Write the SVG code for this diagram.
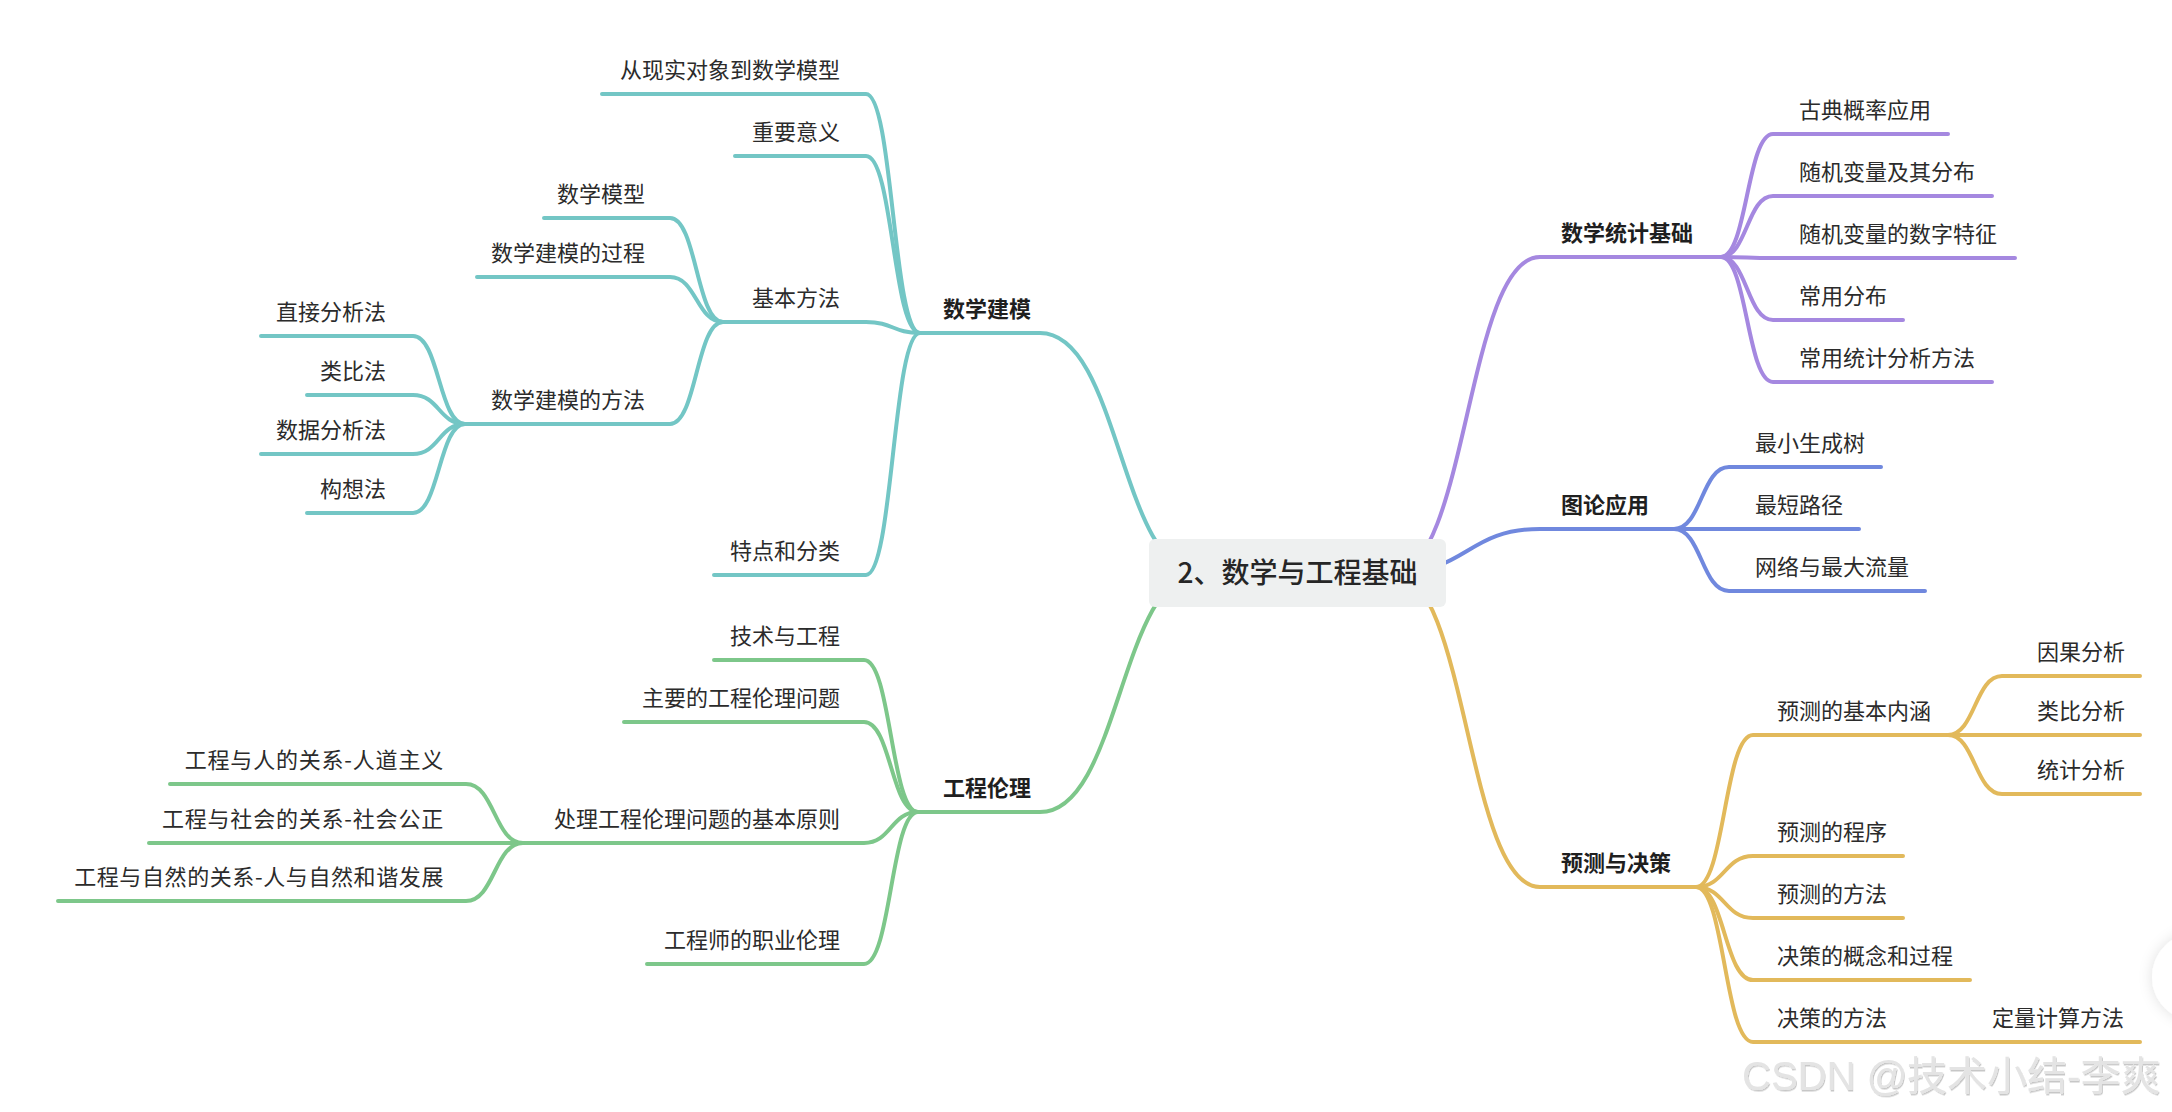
<svg xmlns="http://www.w3.org/2000/svg" width="2172" height="1112" viewBox="0 0 2172 1112">
<style>
  text { font-family: "Noto Sans CJK SC", "Noto Sans", sans-serif; }
  .t { font-size: 22px; fill: #2b2b2b; }
  .e { text-anchor: end; }
  .l1 { font-size: 22px; font-weight: bold; fill: #1f1f1f; }
  .root { font-size: 28px; fill: #262626; text-anchor: middle; font-weight: 500; }
  .c { fill: none; stroke-width: 4; stroke-linecap: round; stroke-linejoin: round; }
  .teal { stroke: #73c6c5; }
  .green { stroke: #7dc78a; }
  .purple { stroke: #a588e0; }
  .blue { stroke: #7088de; }
  .gold { stroke: #e2b95b; }
  .wm { font-family: "Liberation Sans", "Noto Sans CJK SC", sans-serif; font-size: 40px; fill: #e4e4e4; }
</style>
<defs>
  <filter id="wmShadow" x="-5%" y="-20%" width="110%" height="140%">
    <feDropShadow dx="1" dy="1.5" stdDeviation="0.7" flood-color="#000000" flood-opacity="0.22"/>
  </filter>
  <filter id="btnShadow" x="-50%" y="-50%" width="200%" height="200%">
    <feDropShadow dx="0" dy="0" stdDeviation="7" flood-color="#000000" flood-opacity="0.12"/>
  </filter>
</defs>
<rect width="2172" height="1112" fill="#ffffff"/>

<g id="connectors">
  <!-- teal: 数学建模 -->
  <path class="c teal" d="M 1200 573 C 1120 573 1120 333 1040 333 L 920 333"/>
  <path class="c teal" d="M 602 94 L 866 94 C 893 94 893 333 920 333"/>
  <path class="c teal" d="M 735 156 L 866 156 C 893 156 893 333 920 333"/>
  <path class="c teal" d="M 723 322 L 866 322 C 893 322 893 333 920 333"/>
  <path class="c teal" d="M 714 575 L 866 575 C 893 575 893 333 920 333"/>
  <path class="c teal" d="M 544 218 L 670 218 C 696.5 218 696.5 322 723 322"/>
  <path class="c teal" d="M 477 277 L 670 277 C 696.5 277 696.5 322 723 322"/>
  <path class="c teal" d="M 465 424 L 670 424 C 696.5 424 696.5 322 723 322"/>
  <path class="c teal" d="M 261 336 L 413 336 C 439 336 439 424 465 424"/>
  <path class="c teal" d="M 307 395 L 413 395 C 439 395 439 424 465 424"/>
  <path class="c teal" d="M 261 454 L 413 454 C 439 454 439 424 465 424"/>
  <path class="c teal" d="M 307 513 L 413 513 C 439 513 439 424 465 424"/>
  <!-- green: 工程伦理 -->
  <path class="c green" d="M 1200 573 C 1120 573 1120 812 1040 812 L 918 812"/>
  <path class="c green" d="M 714 660 L 864 660 C 891 660 891 812 918 812"/>
  <path class="c green" d="M 624 722 L 864 722 C 891 722 891 812 918 812"/>
  <path class="c green" d="M 523 843 L 864 843 C 891 843 891 812 918 812"/>
  <path class="c green" d="M 647 964 L 864 964 C 891 964 891 812 918 812"/>
  <path class="c green" d="M 170 784 L 466 784 C 494.5 784 494.5 843 523 843"/>
  <path class="c green" d="M 149 843 L 523 843"/>
  <path class="c green" d="M 58 901 L 466 901 C 494.5 901 494.5 843 523 843"/>
  <!-- purple: 数学统计基础 -->
  <path class="c purple" d="M 1394 573 C 1467 573 1467 257 1540 257 L 1721 257"/>
  <path class="c purple" d="M 1721 257 C 1747 257 1747 134 1773 134 L 1948 134"/>
  <path class="c purple" d="M 1721 257 C 1747 257 1747 196 1773 196 L 1992 196"/>
  <path class="c purple" d="M 1721 257 C 1747 257 1747 258 1773 258 L 2015 258"/>
  <path class="c purple" d="M 1721 257 C 1747 257 1747 320 1773 320 L 1903 320"/>
  <path class="c purple" d="M 1721 257 C 1747 257 1747 382 1773 382 L 1992 382"/>
  <!-- blue: 图论应用 -->
  <path class="c blue" d="M 1394 573 C 1467 573 1467 529 1540 529 L 1674 529"/>
  <path class="c blue" d="M 1674 529 C 1701.5 529 1701.5 467 1729 467 L 1881 467"/>
  <path class="c blue" d="M 1674 529 L 1859 529"/>
  <path class="c blue" d="M 1674 529 C 1701.5 529 1701.5 591 1729 591 L 1925 591"/>
  <!-- gold: 预测与决策 -->
  <path class="c gold" d="M 1394 573 C 1467 573 1467 887 1540 887 L 1696 887"/>
  <path class="c gold" d="M 1696 887 C 1724.5 887 1724.5 735 1753 735 L 1948 735"/>
  <path class="c gold" d="M 1696 887 C 1724.5 887 1724.5 856 1753 856 L 1903 856"/>
  <path class="c gold" d="M 1696 887 C 1724.5 887 1724.5 918 1753 918 L 1903 918"/>
  <path class="c gold" d="M 1696 887 C 1724.5 887 1724.5 980 1753 980 L 1970 980"/>
  <path class="c gold" d="M 1696 887 C 1724.5 887 1724.5 1042 1753 1042 L 2140 1042"/>
  <path class="c gold" d="M 1948 735 C 1975 735 1975 676 2002 676 L 2140 676"/>
  <path class="c gold" d="M 1948 735 L 2140 735"/>
  <path class="c gold" d="M 1948 735 C 1975 735 1975 794 2002 794 L 2140 794"/>
</g>

<g id="root">
  <rect x="1149" y="539" width="297" height="68" rx="6" fill="#eef0f0"/>
  <text class="root" x="1297.5" y="583">2、数学与工程基础</text>
</g>

<g id="n-shuxuejianmo"><text class="l1" x="943" y="317">数学建模</text></g>
<g id="n-xianshi"><text class="t e" x="840" y="78">从现实对象到数学模型</text></g>
<g id="n-zhongyao"><text class="t e" x="840" y="140">重要意义</text></g>
<g id="n-jibenfangfa"><text class="t e" x="840" y="306">基本方法</text></g>
<g id="n-tedian"><text class="t e" x="840" y="559">特点和分类</text></g>
<g id="n-shuxuemoxing"><text class="t e" x="645" y="202">数学模型</text></g>
<g id="n-guocheng"><text class="t e" x="645" y="261">数学建模的过程</text></g>
<g id="n-fangfa"><text class="t e" x="645" y="408">数学建模的方法</text></g>
<g id="n-zhijie"><text class="t e" x="386" y="320">直接分析法</text></g>
<g id="n-leibi"><text class="t e" x="386" y="379">类比法</text></g>
<g id="n-shuju"><text class="t e" x="386" y="438">数据分析法</text></g>
<g id="n-gouxiang"><text class="t e" x="386" y="497">构想法</text></g>

<g id="n-gongchenglunli"><text class="l1" x="943" y="796">工程伦理</text></g>
<g id="n-jishu"><text class="t e" x="840" y="644">技术与工程</text></g>
<g id="n-zhuyao"><text class="t e" x="840" y="706">主要的工程伦理问题</text></g>
<g id="n-chuli"><text class="t e" x="840" y="827">处理工程伦理问题的基本原则</text></g>
<g id="n-gongchengshi"><text class="t e" x="840" y="948">工程师的职业伦理</text></g>
<g id="n-ren"><text class="t e" x="444" y="768" letter-spacing="0.8">工程与人的关系-人道主义</text></g>
<g id="n-shehui"><text class="t e" x="444" y="827" letter-spacing="0.8">工程与社会的关系-社会公正</text></g>
<g id="n-ziran"><text class="t e" x="444" y="885" letter-spacing="0.6">工程与自然的关系-人与自然和谐发展</text></g>

<g id="n-tongji"><text class="l1" x="1561" y="241">数学统计基础</text></g>
<g id="n-gudian"><text class="t" x="1799" y="118">古典概率应用</text></g>
<g id="n-suiji1"><text class="t" x="1799" y="180">随机变量及其分布</text></g>
<g id="n-suiji2"><text class="t" x="1799" y="242">随机变量的数字特征</text></g>
<g id="n-changyong1"><text class="t" x="1799" y="304">常用分布</text></g>
<g id="n-changyong2"><text class="t" x="1799" y="366">常用统计分析方法</text></g>

<g id="n-tulun"><text class="l1" x="1561" y="513">图论应用</text></g>
<g id="n-zuixiao"><text class="t" x="1755" y="451">最小生成树</text></g>
<g id="n-zuiduan"><text class="t" x="1755" y="513">最短路径</text></g>
<g id="n-wangluo"><text class="t" x="1755" y="575">网络与最大流量</text></g>

<g id="n-yuce"><text class="l1" x="1561" y="871">预测与决策</text></g>
<g id="n-neihan"><text class="t" x="1777" y="719">预测的基本内涵</text></g>
<g id="n-yinguo"><text class="t" x="2037" y="660">因果分析</text></g>
<g id="n-leibifenxi"><text class="t" x="2037" y="719">类比分析</text></g>
<g id="n-tongjifenxi"><text class="t" x="2037" y="778">统计分析</text></g>
<g id="n-chengxu"><text class="t" x="1777" y="840">预测的程序</text></g>
<g id="n-yucefangfa"><text class="t" x="1777" y="902">预测的方法</text></g>
<g id="n-juece"><text class="t" x="1777" y="964">决策的概念和过程</text></g>
<g id="n-juecefangfa"><text class="t" x="1777" y="1026">决策的方法</text></g>
<g id="n-dingliang"><text class="t" x="1992" y="1026">定量计算方法</text></g>

<circle cx="2196" cy="977" r="44" fill="#ffffff" filter="url(#btnShadow)"/>
<text class="wm" x="1742" y="1090" filter="url(#wmShadow)">CSDN @技术小结-李爽</text>
</svg>
